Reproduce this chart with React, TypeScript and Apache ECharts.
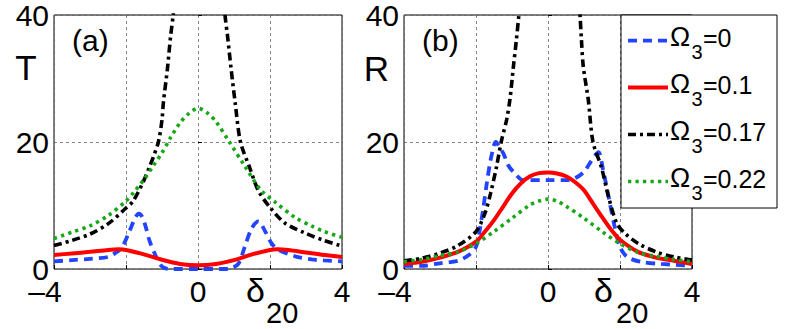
import React, { useEffect, useRef } from "react";
import * as echarts from "echarts";

// ---------- data ----------
const xTicks = [-4, -2, 0, 2, 4];
const xTickLabels = ["–4", "", "0", "", "4"];
const yTicks = [0, 20, 40];
const legendNames = ["=0", "=0.1", "=0.17", "=0.22"];

// panel (a) : T
const tOmega0: number[][] = [
  [-4, 1.2], [-3.5, 1.4], [-3, 1.6], [-2.5, 1.9], [-2.25, 2.7], [-2.1, 3.5], [-1.9, 6.0],
  [-1.75, 8.0], [-1.65, 8.7], [-1.55, 8.2], [-1.45, 6.6], [-1.35, 4.5], [-1.2, 2.4],
  [-1.05, 0.7], [-0.9, 0.1], [-0.7, 0], [0, 0], [0.7, 0], [0.9, 0.1], [1.12, 0.8],
  [1.3, 3.5], [1.49, 6.4], [1.68, 7.5], [1.86, 6.0], [2.05, 4.0], [2.24, 3.0],
  [2.7, 2.0], [3.16, 1.5], [3.5, 1.35], [4, 1.2],
];
const tOmega01: number[][] = [
  [-4, 2.2], [-3.5, 2.45], [-3, 2.7], [-2.5, 3.0], [-2.2, 3.1], [-2, 3.0], [-1.5, 2.3],
  [-1, 1.45], [-0.5, 0.8], [0, 0.6], [0.5, 0.8], [1, 1.4], [1.5, 2.3], [2, 3.0],
  [2.2, 3.1], [2.5, 3.0], [3, 2.6], [3.5, 2.2], [4, 1.9],
];
const tOmega017Left: number[][] = [
  [-4, 3.7], [-3.5, 4.5], [-3, 5.5], [-2.5, 7.1], [-2, 9.6], [-1.8, 10.7], [-1.5, 14],
  [-1.36, 15.9], [-1.25, 17.5], [-1.1, 20], [-1, 23.5], [-0.96, 26.3], [-0.85, 31.5],
  [-0.76, 36.7], [-0.69, 40], [-0.6, 46],
];
const tOmega017Right: number[][] = [
  [0.67, 46], [0.75, 40], [0.82, 36.7], [0.92, 31.5], [1.03, 26.3], [1.18, 20],
  [1.44, 15.9], [1.68, 12.3], [2, 9.7], [2.42, 7.2], [3, 5.6], [3.5, 4.5], [4, 3.6],
];
const tOmega022: number[][] = [
  [-4, 4.8], [-3.5, 5.8], [-3, 6.8], [-2.5, 8.4], [-2, 10.7], [-1.75, 12.3], [-1.5, 14.1],
  [-1.25, 16.2], [-1, 18.3], [-0.75, 20.8], [-0.5, 23.0], [-0.25, 24.5], [0, 25.3],
  [0.25, 24.6], [0.5, 23.2], [0.85, 20.2], [1.3, 16.2], [1.75, 12.4], [2.15, 10.5],
  [2.7, 8.1], [3.15, 6.8], [3.5, 5.9], [4, 5.0],
];

// panel (b) : R
const rOmega0: number[][] = [
  [-4, 0.5], [-3.5, 0.5], [-3, 0.9], [-2.5, 1.3], [-2.2, 2.2], [-2, 3.5], [-1.9, 6.0],
  [-1.8, 9.5], [-1.7, 13.5], [-1.6, 17.0], [-1.5, 19.5], [-1.45, 20], [-1.35, 19.2],
  [-1.24, 18.2], [-1.1, 16.3], [-0.96, 15.3], [-0.69, 14.0], [0, 14.0], [0.5, 14.0],
  [0.75, 14.3], [1.0, 15.3], [1.2, 17], [1.4, 18.4], [1.53, 15.6], [1.7, 10.9],
  [1.85, 6.7], [2.0, 3.5], [2.2, 1.9], [2.6, 1.1], [3.15, 0.8], [4, 0.5],
];
const rOmega01: number[][] = [
  [-4, 0.8], [-3.5, 1.15], [-3, 1.8], [-2.5, 2.7], [-2, 4.3], [-1.75, 5.9], [-1.5, 7.7],
  [-1.25, 9.8], [-1, 11.9], [-0.75, 13.5], [-0.5, 14.6], [-0.25, 15.1], [0, 15.2],
  [0.25, 15.05], [0.5, 14.6], [0.75, 13.7], [1, 12.4], [1.25, 10.3], [1.5, 8.2],
  [1.75, 6.2], [2, 4.6], [2.5, 2.7], [3, 1.8], [3.5, 1.3], [4, 0.8],
];
const rOmega017Left: number[][] = [
  [-4, 1.3], [-3.5, 1.7], [-3, 2.5], [-2.5, 3.7], [-2, 5.9], [-1.75, 8.8], [-1.6, 11.8],
  [-1.43, 16.1], [-1.3, 20], [-1.15, 23.5], [-1.06, 26.6], [-0.96, 31.9], [-0.88, 36],
  [-0.81, 40], [-0.74, 45],
];
const rOmega017Right: number[][] = [
  [0.84, 45], [0.89, 40], [0.93, 36], [0.98, 31.9], [1.12, 26.6], [1.25, 20],
  [1.49, 15.9], [1.68, 11.4], [1.91, 7.2], [2.14, 5.6], [2.51, 4.0], [3, 2.7],
  [3.5, 1.9], [4, 1.4],
];
const rOmega022: number[][] = [
  [-4, 1.15], [-3.5, 1.5], [-3, 2.1], [-2.5, 2.7], [-2, 4.0], [-1.5, 5.9], [-1, 8.0],
  [-0.5, 10.1], [-0.25, 10.7], [0, 11.0], [0.25, 10.7], [0.5, 9.9], [1, 8.0], [1.5, 5.9],
  [2, 4.0], [2.5, 2.6], [3, 2.0], [3.5, 1.5], [4, 1.15],
];

// ---------- styles ----------
const FONT = '"Liberation Sans", Arial, Helvetica, sans-serif';
const BLUE = "#2244ff";
const RED = "#ff0000";
const BLACK = "#000000";
const GREEN = "#17a817";
const styles = [
  { color: BLUE, width: 3.8, type: [9, 6] as any },
  { color: RED, width: 4, type: "solid" as any },
  { color: BLACK, width: 3.6, type: [8, 4, 3, 4] as any },
  { color: GREEN, width: 3.6, type: [3.3, 4.2] as any },
];

const grids = [
  { left: 54, top: 12, width: 288, height: 257 },
  { left: 404, top: 15, width: 288, height: 254 },
];

export default function App() {
  const ref = useRef<HTMLDivElement>(null);
  useEffect(() => {
    if (!ref.current) return;
    const chart = echarts.init(ref.current, null, { renderer: "svg" });

    const xAxis = grids.map((_, i) => ({
      type: "value",
      gridIndex: i,
      min: xTicks[0],
      max: xTicks[xTicks.length - 1],
      interval: 2,
      axisLine: { show: false },
      axisTick: { show: true, inside: true, length: 4, lineStyle: { color: "#000" } },
      splitLine: { show: true, lineStyle: { color: "#666", width: 0.8, type: [3, 3] } },
      axisLabel: {
        color: "#000",
        fontSize: 30,
        lineHeight: 22,
        fontFamily: FONT,
        margin: 11,
        formatter: (v: number) => {
          const k = xTicks.indexOf(v);
          const s = k >= 0 ? xTickLabels[k] : "";
          if (s.startsWith("–")) return "{m|" + s + "}";
          return s;
        },
        rich: {
          m: { fontSize: 30, lineHeight: 22, fontFamily: FONT, color: "#000", padding: [0, 18, 0, 0] },
        },
      },
    }));
    const yAxis = grids.map((_, i) => ({
      type: "value",
      gridIndex: i,
      min: yTicks[0],
      max: yTicks[yTicks.length - 1],
      interval: 20,
      axisLine: { show: false },
      axisTick: { show: true, inside: true, length: 4, lineStyle: { color: "#000" } },
      splitLine: { show: true, lineStyle: { color: "#666", width: 0.8, type: [3, 3] } },
      axisLabel: { color: "#000", fontSize: 30, lineHeight: 22, fontFamily: FONT, margin: 5 },
    }));

    const mk = (data: number[][], gi: number, si: number) => ({
      type: "line",
      xAxisIndex: gi,
      yAxisIndex: gi,
      data,
      symbol: "none",
      showSymbol: false,
      smooth: 0.3,
      clip: true,
      lineStyle: { ...styles[si], cap: "butt" },
      silent: true,
    });

    const series = [
      mk(tOmega0, 0, 0),
      mk(tOmega01, 0, 1),
      mk(tOmega017Left, 0, 2),
      mk(tOmega017Right, 0, 2),
      mk(tOmega022, 0, 3),
      mk(rOmega0, 1, 0),
      mk(rOmega01, 1, 1),
      mk(rOmega017Left, 1, 2),
      mk(rOmega017Right, 1, 2),
      mk(rOmega022, 1, 3),
    ];

    const txt = (text: string, x: number, y: number, size: number, align = "left") => ({
      type: "text",
      x,
      y,
      silent: true,
      style: {
        text,
        fill: "#000",
        fontSize: size,
        fontFamily: FONT,
        align,
        verticalAlign: "middle",
      },
    });

    const legendRowsY = [40.7, 87.5, 134.5, 181.5];
    const legend: any[] = [
      {
        type: "rect",
        shape: { x: 621, y: 15, width: 156, height: 193 },
        style: { fill: "#fff", stroke: "#000", lineWidth: 1 },
        z: 100,
      },
    ];
    legendRowsY.forEach((ly, i) => {
      legend.push({
        type: "line",
        shape: { x1: 628, y1: ly, x2: 668, y2: ly },
        style: {
          stroke: styles[i].color,
          lineWidth: styles[i].width,
          lineDash: Array.isArray(styles[i].type) ? styles[i].type : null,
          lineCap: "butt",
        },
        z: 101,
      });
      legend.push({ ...txt("Ω", 670, ly - 3.4, 27), z: 101 });
      legend.push({ ...txt("3", 691.5, ly + 11.6, 20), z: 101 });
      legend.push({ ...txt(legendNames[i], 703, ly - 2.75, 25), z: 101 });
    });

    const graphic: any[] = [
      txt("T", 26, 67.7, 35, "center"),
      txt("R", 376.5, 68.5, 35, "center"),
      txt("(a)", 72, 40.5, 30),
      txt("(b)", 422, 40.5, 30),
      txt("δ", 246, 290, 34),
      txt("20", 266, 313, 29),
      txt("δ", 594, 290, 34),
      txt("20", 616, 313, 29),
      ...legend,
    ];

    chart.setOption({
      animation: false,
      backgroundColor: "#fff",
      grid: grids.map((g) => ({
        ...g,
        show: true,
        borderColor: "#000",
        borderWidth: 1,
        backgroundColor: "transparent",
      })),
      xAxis,
      yAxis,
      series,
      graphic,
    } as any);

    return () => chart.dispose();
  }, []);
  return (
    <div
      ref={ref}
      style={{ position: "fixed", left: 0, top: 0, width: 789, height: 329 }}
    />
  );
}
